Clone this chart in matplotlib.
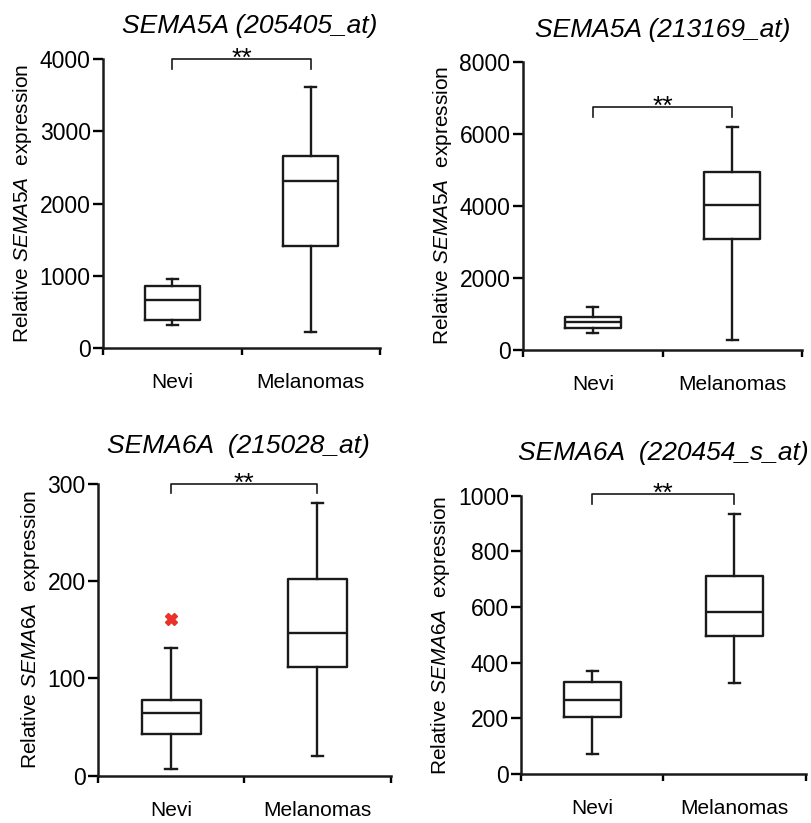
import matplotlib.pyplot as plt
import numpy as np

plt.rcParams['font.family'] = ['Liberation Sans', 'DejaVu Sans']
plt.rcParams['mathtext.fontset'] = 'custom'
plt.rcParams['mathtext.rm'] = 'Liberation Sans'
plt.rcParams['mathtext.it'] = 'Liberation Sans:italic'

groups = ['Nevi', 'Melanomas']

# box stats: [Nevi, Melanomas]
titles = ['SEMA5A (205405_at)', 'SEMA5A (213169_at)',
          'SEMA6A  (215028_at)', 'SEMA6A  (220454_s_at)']
genes = ['SEMA5A', 'SEMA5A', 'SEMA6A', 'SEMA6A']
whis_lo = [[317, 225], [462, 277], [7, 20], [71, 326]]
q1 = [[390, 1411], [601, 3071], [43, 112], [206, 497]]
med = [[662, 2308], [758, 4032], [64, 147], [266, 583]]
q3 = [[860, 2666], [907, 4939], [78, 202], [332, 711]]
whis_hi = [[961, 3610], [1184, 6188], [131, 280], [371, 934]]
fliers = [[[], []], [[], []], [[161], []], [[], []]]

ymax = [4000, 8000, 300, 1000]
yticks = [[0, 1000, 2000, 3000, 4000], [0, 2000, 4000, 6000, 8000],
          [0, 100, 200, 300], [0, 200, 400, 600, 800, 1000]]
bracket_top = [4000, 6750, 300, 1006]
bracket_bot = [3860, 6475, 290, 972]

# axes positions in figure fraction
positions = [[0.127, 0.577, 0.341, 0.351],
             [0.644, 0.575, 0.344, 0.350],
             [0.121, 0.0575, 0.360, 0.355],
             [0.642, 0.0595, 0.350, 0.338]]
title_pad = [19, 18, 22, 26]
title_x = [0.53, 0.5, 0.48, 0.5]

fig = plt.figure(figsize=(8.12, 8.23), dpi=100)

for i in range(4):
    ax = fig.add_axes(positions[i])
    stats = []
    for j in range(2):
        stats.append({'med': med[i][j], 'q1': q1[i][j], 'q3': q3[i][j],
                      'whislo': whis_lo[i][j], 'whishi': whis_hi[i][j],
                      'fliers': fliers[i][j], 'label': groups[j]})
    lw = 1.7
    ax.bxp(stats, positions=[0.5, 1.5], widths=0.4,
           boxprops=dict(color='#1a1a1a', linewidth=lw),
           medianprops=dict(color='#1a1a1a', linewidth=lw),
           whiskerprops=dict(color='#1a1a1a', linewidth=lw),
           capprops=dict(color='#1a1a1a', linewidth=lw),
           capwidths=0.08,
           flierprops=dict(marker='X', markerfacecolor='#e8332a',
                           markeredgecolor='#e8332a', markersize=8))

    ax.set_xlim(0, 2)
    ax.set_ylim(0, ymax[i])
    ax.set_yticks(yticks[i])
    ax.set_xticks([0.5, 1.5])
    ax.set_xticklabels(groups)
    ax.set_xticks([0, 1, 2], minor=True)
    ax.tick_params(axis='x', which='major', length=0, pad=18, labelsize=15)
    ax.tick_params(axis='x', which='minor', length=5, width=1.7, direction='out')
    ax.tick_params(axis='y', length=7, width=1.7, labelsize=16.5, pad=2)
    ax.spines['top'].set_visible(False)
    ax.spines['right'].set_visible(False)
    ax.spines['left'].set_linewidth(1.8)
    ax.spines['bottom'].set_linewidth(1.8)
    ax.spines['left'].set_color('#1a1a1a')
    ax.spines['bottom'].set_color('#1a1a1a')

    ax.set_ylabel('Relative $\\it{' + genes[i] + '}$  expression', fontsize=15, labelpad=4)
    ax.set_title(titles[i], fontsize=19, style='italic', pad=title_pad[i], x=title_x[i])

    # significance bracket
    ax.plot([0.5, 0.5, 1.5, 1.5],
            [bracket_bot[i], bracket_top[i], bracket_top[i], bracket_bot[i]],
            color='#1a1a1a', linewidth=1.2, clip_on=False)
    ax.annotate('**', xy=(1.0, bracket_top[i]), xytext=(0, -5),
                textcoords='offset points', ha='center', va='baseline',
                fontsize=19, annotation_clip=False)

plt.savefig('out.png', dpi=100)
